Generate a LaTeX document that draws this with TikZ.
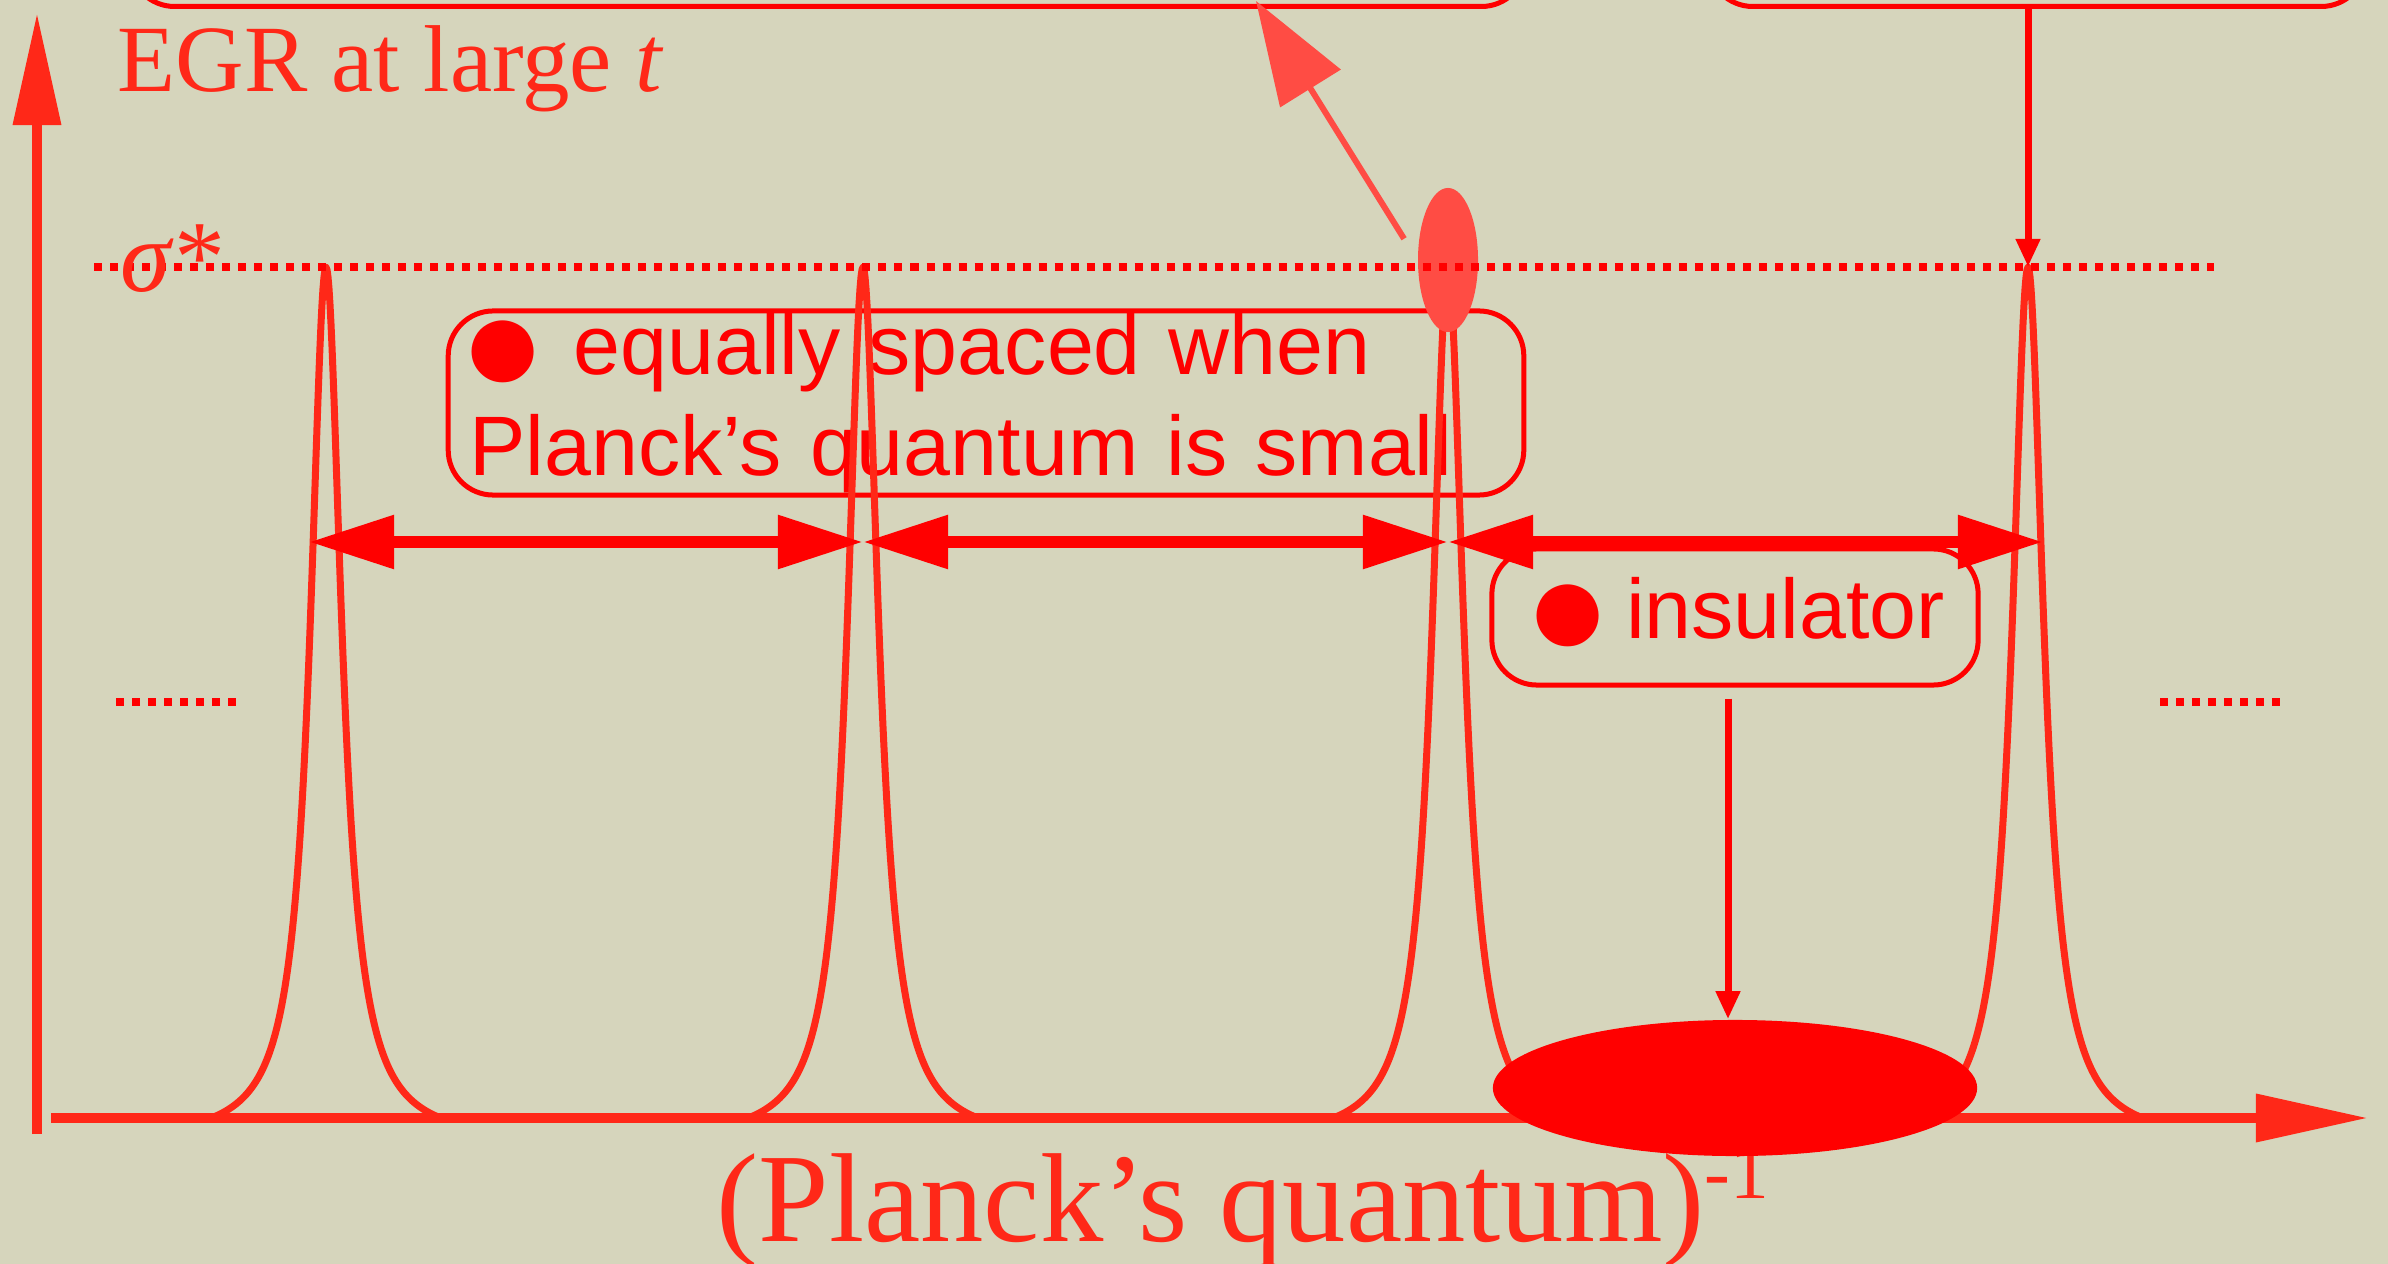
\documentclass[tikz,border=0pt]{standalone}
\usepackage{fontspec}
\setmainfont{Liberation Serif}
\setsansfont{Liberation Sans}
\usetikzlibrary{arrows.meta,shapes.geometric,positioning,calc}
\definecolor{paper}{RGB}{214,213,188}
\definecolor{curvered}{RGB}{255,40,24}
\definecolor{markred}{RGB}{255,76,68}
\newcommand{\bigdot}{\raisebox{-0.18cm}{\fontsize{41}{41}\selectfont ●}}

\begin{document}
\begin{tikzpicture}[
  x=0.01cm, y=-0.01cm,
  box/.style={draw=red, line width=0.05cm, rounded corners=0.45cm, text=red,
    font=\sffamily\fontsize{24}{28.7}\selectfont},
  axis/.style={curvered, line width=0.1cm, -{Triangle[length=1.12cm,width=0.46cm]}},
  curve/.style={curvered, line width=0.07cm, line join=round},
  dots/.style={red, line width=0.075cm, dash pattern=on 0.08cm off 0.08cm},
  span/.style={red, line width=0.12cm,
    {Triangle[length=0.85cm,width=0.51cm]}-{Triangle[length=0.85cm,width=0.51cm]}},
  arrow/.style={red, line width=0.07cm, -{Triangle[length=0.28cm,width=0.23cm]}},
  big/.style={font=\fontsize{27}{32}\selectfont, text=curvered, inner sep=0pt}
]
\fill[paper] (0,0) rectangle (2388,1264);
\clip (0,0) rectangle (2388,1264);

\node[box, minimum width=13.96cm, minimum height=2cm, anchor=south] (ta) at (828,9) {};
\node[box, minimum width=6.58cm, minimum height=2cm, anchor=south] (tb) at (2037,9) {};

\node[box, minimum width=10.75cm, minimum height=1.84cm, text width=10.33cm,
  inner xsep=0.21cm, inner ysep=0pt, align=left] (eq) at (986,403)
  {\hspace*{-0.1cm}\bigdot\hspace{0.27cm}equally spaced when\\Planck’s quantum is small};
\node[box, minimum width=4.86cm, minimum height=1.36cm, inner sep=0pt] (ins) at (1735,617)
  {\bigdot\hspace{0.14cm}insulator};

\foreach \c [count=\i] in {326,863,1448,2028} {
  \draw[curve, shift={(\c,0)}] plot[domain=-115:115, samples=231, variable=\t]
    (\t, {1141.3 - 874/(1+(\t/19)^2)});
  \coordinate (p\i) at (\c,267);
}

\node[ellipse, fill=markred, inner sep=0pt, minimum width=0.6cm, minimum height=1.44cm] (pk) at (1448,260) {};
\coordinate (tip) at (1256,1);
\draw[markred, line width=0.06cm, -{Triangle[length=1.03cm,width=0.7cm]}, shorten <=0.25cm] (pk.west) -- (tip);

\draw[dots] (94,267) -- (2214,267);
\draw[dots] (116,702) -- (240,702);
\draw[dots] (2160,702) -- (2284,702);

\coordinate (lv) at (0,542);
\draw[span] ($(p1 |- lv)+(-17,0)$) -- (p2 |- lv);
\draw[span] (p2 |- lv) -- (p3 |- lv);
\draw[span] (p3 |- lv) -- ($(p4 |- lv)+(15,0)$);

\draw[arrow] (tb.south -| p4) -- (p4);

\draw[axis] (37,1134) -- (37,13);
\draw[axis] (51,1118) -- (2368,1118);

\node[big, anchor=base west] (egr) at (117,92) {EGR at large \textit{t}};
\node[big, font=\fontsize{29}{32}\selectfont, anchor=base west] (sig) at (120,292) {\textit{σ}*};
\node[big, font=\fontsize{36}{40}\selectfont, anchor=base west] (axl) at (716,1241)
  {(Planck’s quantum)\raisebox{0.42cm}{\fontsize{22}{22}\selectfont -1}};

\node[ellipse, fill=red, inner sep=0pt, minimum width=4.84cm, minimum height=1.36cm] (gap) at (1735,1088) {};
\draw[arrow, shorten <=0.11cm] ([xshift=-0.07cm]ins.south) -- ([xshift=-0.07cm]gap.north);

\end{tikzpicture}
\end{document}
